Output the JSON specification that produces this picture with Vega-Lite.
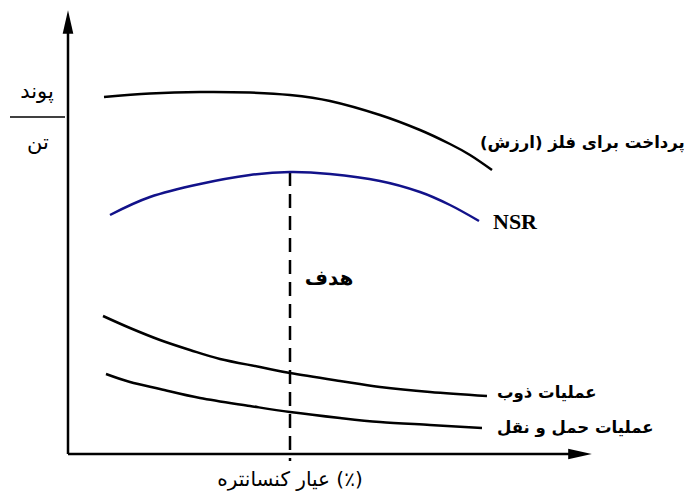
{
  "$schema": "https://vega.github.io/schema/vega-lite/v6.json",
  "width": 691,
  "height": 498,
  "autosize": {"type": "none"},
  "padding": 0,
  "background": "white",
  "config": {"view": {"stroke": null}},
  "datasets": {
    "curves": [
      {"series": "metal", "x": 36, "y": 357}, {"series": "metal", "x": 82, "y": 360.5}, {"series": "metal", "x": 132, "y": 362}, {"series": "metal", "x": 182, "y": 361.5}, {"series": "metal", "x": 222, "y": 359}, {"series": "metal", "x": 262, "y": 353}, {"series": "metal", "x": 312, "y": 339}, {"series": "metal", "x": 352, "y": 324}, {"series": "metal", "x": 382, "y": 310}, {"series": "metal", "x": 402, "y": 299}, {"series": "metal", "x": 424, "y": 284},
      {"series": "nsr", "x": 42, "y": 239}, {"series": "nsr", "x": 82, "y": 257}, {"series": "nsr", "x": 132, "y": 270}, {"series": "nsr", "x": 182, "y": 279}, {"series": "nsr", "x": 222, "y": 282}, {"series": "nsr", "x": 262, "y": 280}, {"series": "nsr", "x": 312, "y": 273}, {"series": "nsr", "x": 352, "y": 262}, {"series": "nsr", "x": 382, "y": 249}, {"series": "nsr", "x": 411, "y": 233},
      {"series": "smelt", "x": 35, "y": 138}, {"series": "smelt", "x": 62, "y": 126}, {"series": "smelt", "x": 92, "y": 114}, {"series": "smelt", "x": 122, "y": 104}, {"series": "smelt", "x": 152, "y": 95}, {"series": "smelt", "x": 192, "y": 87}, {"series": "smelt", "x": 222, "y": 81}, {"series": "smelt", "x": 272, "y": 73}, {"series": "smelt", "x": 312, "y": 67}, {"series": "smelt", "x": 362, "y": 62}, {"series": "smelt", "x": 419, "y": 58},
      {"series": "transport", "x": 38, "y": 80}, {"series": "transport", "x": 62, "y": 72}, {"series": "transport", "x": 92, "y": 65}, {"series": "transport", "x": 132, "y": 56}, {"series": "transport", "x": 182, "y": 48}, {"series": "transport", "x": 222, "y": 42}, {"series": "transport", "x": 272, "y": 36}, {"series": "transport", "x": 312, "y": 32}, {"series": "transport", "x": 362, "y": 29}, {"series": "transport", "x": 414, "y": 26}
    ],
    "axes": [
      {"x": 0, "y": 0, "x2": 0, "y2": 428},
      {"x": 0, "y": 0, "x2": 508, "y2": 0}
    ],
    "arrows": [
      {"dir": "up", "x": 0, "y": 432},
      {"dir": "right", "x": 512, "y": 0}
    ],
    "target": [{"x": 222, "y": 282, "y2": -7}],
    "fraction": [{"x": -58, "x2": -3, "y": 337}],
    "curveLabels": [
      {"label": "پرداخت برای فلز (ارزش)", "x": 412, "y": 311},
      {"label": "عملیات ذوب", "x": 429, "y": 61},
      {"label": "عملیات حمل و نقل", "x": 429, "y": 26}
    ],
    "nsrLabel": [{"label": "NSR", "x": 425, "y": 232}],
    "targetLabel": [{"label": "هدف", "x": 261, "y": 175}],
    "xTitle": [{"label": "عیار کنسانتره (٪)", "x": 222, "y": -26}],
    "yTitle": [
      {"label": "پوند", "x": -31, "y": 362},
      {"label": "تن", "x": -30, "y": 311}
    ]
  },
  "encoding": {
    "x": {"field": "x", "type": "quantitative", "scale": {"domain": [-68, 623], "nice": false, "zero": false}, "axis": null},
    "y": {"field": "y", "type": "quantitative", "scale": {"domain": [-44, 454], "nice": false, "zero": false}, "axis": null}
  },
  "layer": [
    {
      "data": {"name": "axes"},
      "mark": {"type": "rule", "color": "black", "strokeWidth": 2.5},
      "encoding": {"x2": {"field": "x2"}, "y2": {"field": "y2"}}
    },
    {
      "data": {"name": "arrows"},
      "mark": {"type": "point", "filled": true, "color": "black", "size": 560, "opacity": 1},
      "encoding": {
        "shape": {"field": "dir", "type": "nominal", "scale": {"domain": ["up", "right"], "range": ["M0,-1L0.45,1L-0.45,1Z", "M1,0L-1,-0.45L-1,0.45Z"]}, "legend": null}
      }
    },
    {
      "data": {"name": "target"},
      "mark": {"type": "rule", "color": "black", "strokeWidth": 2.5, "strokeDash": [14, 8]},
      "encoding": {"y2": {"field": "y2"}}
    },
    {
      "data": {"name": "fraction"},
      "mark": {"type": "rule", "color": "black", "strokeWidth": 1.5},
      "encoding": {"x2": {"field": "x2"}}
    },
    {
      "data": {"name": "curves"},
      "mark": {"type": "line", "interpolate": "cardinal", "strokeWidth": 2.5},
      "encoding": {
        "detail": {"field": "series"},
        "color": {"field": "series", "type": "nominal", "scale": {"domain": ["metal", "nsr", "smelt", "transport"], "range": ["#000000", "#12128a", "#000000", "#000000"]}, "legend": null}
      }
    },
    {
      "data": {"name": "curveLabels"},
      "mark": {"type": "text", "align": "left", "baseline": "middle", "font": "DejaVu Sans", "fontWeight": "bold", "fontSize": 16.5, "color": "black"},
      "encoding": {"text": {"field": "label"}}
    },
    {
      "data": {"name": "nsrLabel"},
      "mark": {"type": "text", "align": "left", "baseline": "middle", "font": "Liberation Serif", "fontWeight": "bold", "fontSize": 22, "color": "black"},
      "encoding": {"text": {"field": "label"}}
    },
    {
      "data": {"name": "targetLabel"},
      "mark": {"type": "text", "align": "center", "baseline": "middle", "font": "DejaVu Sans", "fontWeight": "bold", "fontSize": 20, "color": "black"},
      "encoding": {"text": {"field": "label"}}
    },
    {
      "data": {"name": "xTitle"},
      "mark": {"type": "text", "align": "center", "baseline": "middle", "font": "DejaVu Sans", "fontSize": 20, "color": "black"},
      "encoding": {"text": {"field": "label"}}
    },
    {
      "data": {"name": "yTitle"},
      "mark": {"type": "text", "align": "center", "baseline": "middle", "font": "DejaVu Sans", "fontSize": 21, "color": "black"},
      "encoding": {"text": {"field": "label"}}
    }
  ]
}
